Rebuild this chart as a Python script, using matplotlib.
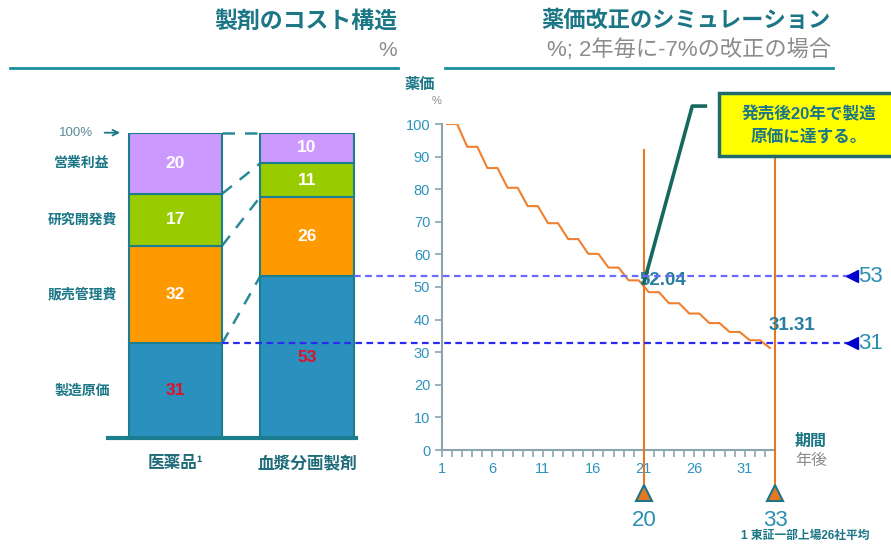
import numpy as np
import matplotlib
matplotlib.use("Agg")
import matplotlib.pyplot as plt
from matplotlib.lines import Line2D
from matplotlib.patches import Rectangle

plt.rcParams['font.family'] = ['Liberation Sans', 'Noto Sans CJK JP', 'DejaVu Sans']

# cost structure (%), bottom to top
cost_items = ['製造原価', '販売管理費', '研究開発費', '営業利益']
products = ['医薬品¹', '血漿分画製剤']
drugs = [31, 32, 17, 20]
plasma = [53, 26, 11, 10]

# price after revisions (-7% every 2 years), year 1..33
years = np.arange(1, 34)
price = [100, 100, 93, 93, 86.49, 86.49, 80.44, 80.44, 74.81, 74.81,
         69.57, 69.57, 64.70, 64.70, 60.17, 60.17, 55.96, 55.96, 52.04, 52.04,
         48.40, 48.40, 45.01, 45.01, 41.86, 41.86, 38.93, 38.93, 36.21, 36.21,
         33.67, 33.67, 31.31]
marks = [20, 33]          # years after launch
mark_vals = [52.04, 31.31]
cost_levels = [53, 31]    # manufacturing cost of plasma / drugs

TEAL = '#1B7686'
GRAY = '#8C8C8C'
TICK = '#2D93BF'
SPINE = '#8AA4B0'
seg_colors = ['#2A91BE', '#FF9900', '#99CC00', '#CC99FF']
W, H = 891, 546


def fx(px):
    return px / W


def fy(py):
    return 1 - py / H


fig = plt.figure(figsize=(W / 100, H / 100), dpi=100)

# titles
fig.text(fx(397), fy(21), '製剤のコスト構造', ha='right', va='center',
         fontsize=16.5, fontweight='bold', color=TEAL)
fig.text(fx(397), fy(50), '%', ha='right', va='center', fontsize=15, color=GRAY)
fig.text(fx(831), fy(21), '薬価改正のシミュレーション', ha='right', va='center',
         fontsize=16, fontweight='bold', color=TEAL)
fig.text(fx(831), fy(50), '%; 2年毎に-7%の改正の場合', ha='right', va='center',
         fontsize=16, color=GRAY)
fig.add_artist(Line2D([fx(10), fx(398)], [fy(68)] * 2, color='#1A8FA0', lw=2))
fig.add_artist(Line2D([fx(445), fx(833)], [fy(68)] * 2, color='#1A8FA0', lw=2))

# ---- stacked bars ----
ax1 = fig.add_axes([fx(108), fy(438), (356 - 108) / W, (438 - 132.7) / H])
ax1.set_xlim(-0.513, 1.373)
ax1.set_ylim(0, 100)
bw = 0.71
tops = []
for xi, vals in enumerate([drugs, plasma]):
    bottom = 0
    t = []
    for k, v in enumerate(vals):
        ax1.bar(xi, v, bottom=bottom, width=bw, color=seg_colors[k],
                edgecolor='#1B7D8E', linewidth=1.5, zorder=2)
        c = '#E0102A' if k == 0 else 'white'
        ax1.text(xi, bottom + v / 2, str(v), ha='center', va='center',
                 fontsize=12.5, fontweight='bold', color=c, zorder=3)
        bottom += v
        t.append(bottom)
    tops.append(t)

for a, b in zip(tops[0], tops[1]):
    ax1.plot([bw / 2, 1 - bw / 2], [a, b], color='#2A8A9A', lw=1.8,
             ls=(0, (5, 4)), zorder=1, clip_on=False)

for k, name in enumerate(cost_items):
    yc = sum(drugs[:k]) + drugs[k] / 2
    ax1.text(-0.711, yc, name, ha='center', va='center', fontsize=10,
             fontweight='bold', color=TEAL)
ax1.annotate('', xy=(-0.40, 100), xytext=(-0.56, 100),
             arrowprops=dict(arrowstyle='->', color=TEAL, lw=1.3), annotation_clip=False)
ax1.text(-0.757, 100, '100%', ha='center', va='center', fontsize=9.5, color='#5A8A9A')
for xi, p in enumerate(products):
    ax1.text(xi, -8.5, p, ha='center', va='center', fontsize=12,
             fontweight='bold', color='#1F6B7A')

for s in ['top', 'right', 'left']:
    ax1.spines[s].set_visible(False)
ax1.spines['bottom'].set_color('#1B7D8E')
ax1.spines['bottom'].set_linewidth(3)
ax1.set_xticks([])
ax1.set_yticks([])

# ---- price simulation ----
ax2 = fig.add_axes([fx(442), fy(450), 333 / W, 326 / H])
ax2.set_xlim(1, 34)
ax2.set_ylim(0, 100)
ax2.plot(years + 0.5, price, color='#F08030', lw=1.5, zorder=3)

ax2.set_yticks(np.arange(0, 101, 10))
ax2.set_xticks(np.arange(1, 32, 5))
ax2.set_xticks(np.arange(1, 35, 1), minor=True)
ax2.tick_params(axis='both', which='both', direction='out', length=5,
                color=SPINE, width=1.2, labelcolor=TICK, labelsize=10.5)
for s in ['top', 'right']:
    ax2.spines[s].set_visible(False)
for s in ['left', 'bottom']:
    ax2.spines[s].set_color(SPINE)
    ax2.spines[s].set_linewidth(1.5)

for m, top in zip(marks, [92, 92]):
    ax2.plot([1 + m, 1 + m], [-13.2, top], color='#E87722', lw=1.5,
             clip_on=False, zorder=4)
    ax2.plot([1 + m], [-13.2], marker='^', ms=11, mfc='#E87722', mec='#1B7686',
             mew=1.5, clip_on=False, zorder=5)
    ax2.text(1 + m, -21.5, str(m), ha='center', va='center', fontsize=16,
             color='#2A8FB0')

ax2.text(20.6, 52.1, f'{mark_vals[0]:.2f}', ha='left', va='center', fontsize=13.5,
         fontweight='bold', color='#2A7F9F', zorder=6)
ax2.text(33.4, 38.3, f'{mark_vals[1]:.2f}', ha='left', va='center', fontsize=13.5,
         fontweight='bold', color='#2A7F9F', zorder=6, clip_on=False)

# leader to callout
ax2.plot([21, 25.8, 27.1], [51.2, 105.5, 105.5], color='#16695E', lw=2.6,
         clip_on=False, zorder=7)

fig.add_artist(Rectangle((fx(719), fy(156)), (893 - 719) / W, (156 - 93) / H,
                         transform=fig.transFigure, fc='#FFFF00', ec='#1F6B6B',
                         lw=2.5, zorder=10))
fig.text(fx(809), fy(125), '発売後20年で製造\n原価に達する。', ha='center', va='center',
         fontsize=12, fontweight='bold', color=TEAL, linespacing=1.5, zorder=11)

fig.text(fx(420), fy(85), '薬価', ha='center', va='center', fontsize=11,
         fontweight='bold', color=TEAL)
fig.text(fx(437), fy(101), '%', ha='center', va='center', fontsize=8, color=GRAY)
fig.text(fx(811), fy(441), '期間', ha='center', va='center', fontsize=11.5,
         fontweight='bold', color=TEAL)
fig.text(fx(811), fy(461), '年後', ha='center', va='center', fontsize=11.5, color=GRAY)
fig.text(fx(805), fy(536), '1 東証一部上場26社平均', ha='center', va='center',
         fontsize=8.5, fontweight='bold', color=TEAL)

# dashed cost lines running across both panels
inv = fig.transFigure.inverted()
starts = [(1 + bw / 2, cost_levels[0]), (bw / 2, cost_levels[1])]
for (x0, lev), col in zip(starts, ['#6A6AFF', '#2A2AF0']):
    px0, py0 = inv.transform(ax1.transData.transform((x0, lev)))
    fig.add_artist(Line2D([px0, fx(848)], [py0, py0], color=col, lw=1.6,
                          ls=(0, (3, 2)), zorder=8))
    fig.add_artist(Line2D([fx(852)], [py0], marker='<', ms=9, color='#0000CC',
                          ls='none', zorder=9))
    fig.text(fx(858), py0, str(lev), ha='left', va='center', fontsize=16,
             color='#2A8FB0', zorder=9)

fig.savefig('out.png', dpi=100)
